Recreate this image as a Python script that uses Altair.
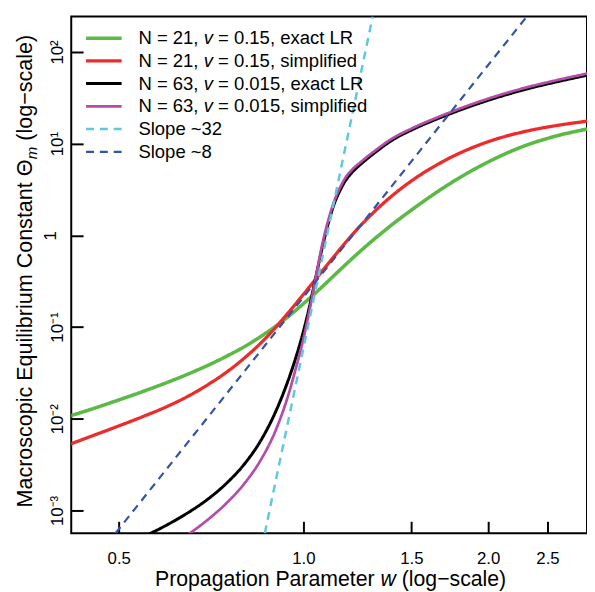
import altair as alt
import pandas as pd

series = [
    "N = 21, v = 0.15, exact LR",
    "N = 21, v = 0.15, simplified",
    "N = 63, v = 0.015, exact LR",
    "N = 63, v = 0.015, simplified",
    "Slope ~32",
    "Slope ~8",
]
colors = ["#5cb946", "#ee2b2b", "#000000", "#b44ca8", "#5ec8df", "#3553a5"]
widths = [3.6, 2.2, 3.6, 2.2, 2.6, 2.6]
dashes = [[1, 0], [1, 0], [1, 0], [1, 0], [8, 6], [8, 6]]

# legend text pieces (v is italic in the reference)
legend_prefix = ["N = 21,", "N = 21,", "N = 63,", "N = 63,", "Slope ~32", "Slope ~8"]
legend_italic = ["v", "v", "v", "v", "", ""]
legend_suffix = ["= 0.15, exact LR", "= 0.15, simplified", "= 0.015, exact LR",
                 "= 0.015, simplified", "", ""]

# axis titles, split so that w and the subscript m can be italic
x_title_parts = ["Propagation Parameter", "w", "(log−scale)"]
y_title_parts = ["Macroscopic Equilibrium Constant Θ", "m", "(log−scale)"]

green_w = [0.41, 0.45, 0.5, 0.55, 0.6, 0.65, 0.7, 0.75, 0.8, 0.85, 0.9, 0.95, 1.0,
           1.05, 1.1, 1.15, 1.2, 1.3, 1.4, 1.5, 1.7, 2.0, 2.3, 2.6, 2.9]
green_theta = [0.010399, 0.012641, 0.016025, 0.020055, 0.024928, 0.030934, 0.038487,
               0.048186, 0.060758, 0.078106, 0.10160, 0.13421, 0.17989, 0.24046,
               0.32166, 0.42658, 0.55683, 0.89178, 1.3360, 1.8873, 3.3761, 6.3081,
               9.5280, 12.255, 14.430]

red_w = green_w
red_theta = [0.005082, 0.006412, 0.008347, 0.010693, 0.013643, 0.017758, 0.023714,
             0.032359, 0.045541, 0.065886, 0.098266, 0.14985, 0.22716, 0.34060,
             0.50119, 0.72160, 1.0104, 1.7677, 2.7579, 3.9228, 6.5497, 10.495,
             13.600, 15.852, 17.587]

black_w = [0.55, 0.6, 0.65, 0.7, 0.75, 0.8, 0.85, 0.9, 0.95, 0.97, 1.0, 1.02, 1.05,
           1.07, 1.1, 1.12, 1.15, 1.17, 1.2, 1.25, 1.3, 1.4, 1.5, 1.7, 2.0, 2.3, 2.6, 2.9]
black_theta = [5.200e-4, 6.990e-4, 9.546e-4, 1.3423e-3, 1.9903e-3, 3.1659e-3, 5.6286e-3,
               0.011757, 0.029354, 0.044566, 0.089784, 0.15324, 0.37670, 0.67546,
               1.4261, 2.1193, 3.1917, 3.9264, 4.8450, 6.2634, 7.7393, 11.086, 14.069,
               20.098, 29.689, 39.090, 47.577, 55.739]

magenta_w = [0.65, 0.7, 0.75, 0.8, 0.85, 0.9, 0.95, 0.97, 1.0, 1.02, 1.05, 1.07, 1.1,
             1.12, 1.15, 1.17, 1.2, 1.25, 1.3, 1.4, 1.5, 1.7, 2.0, 2.3, 2.6, 2.9]
magenta_theta = [5.510e-4, 8.035e-4, 1.2106e-3, 1.9409e-3, 3.4601e-3, 7.3299e-3,
                 0.020490, 0.033820, 0.074690, 0.13801, 0.37550, 0.72595, 1.5322,
                 2.2570, 3.4267, 4.2296, 5.1821, 6.5886, 8.1095, 11.532, 14.584,
                 20.834, 30.935, 40.727, 49.569, 58.063]

slope32_w = [0.865, 1.297]
slope32_theta = [5.65e-4, 244.0]
slope8_w = [0.494, 2.313]
slope8_theta = [5.65e-4, 244.0]

x_ticks = [0.5, 1.0, 1.5, 2.0, 2.5]
y_ticks = [1e-3, 1e-2, 1e-1, 1, 10, 100]
y_tick_labels = ["10⁻³", "10⁻²", "10⁻¹", "1", "10¹", "10²"]

x_domain = [0.4183, 2.899]
y_domain = [5.65e-4, 244.0]

rows = []
for name, ws, ts in zip(
    series,
    [green_w, red_w, black_w, magenta_w, slope32_w, slope8_w],
    [green_theta, red_theta, black_theta, magenta_theta, slope32_theta, slope8_theta],
):
    for i, (w, t) in enumerate(zip(ws, ts)):
        rows.append({"series": name, "w": w, "theta": t, "i": i})
df = pd.DataFrame(rows)

legend_df = pd.DataFrame({
    "series": series,
    "row": list(range(len(series))),
    "prefix": legend_prefix,
    "ital": legend_italic,
    "suffix": legend_suffix,
})

label_array = "[" + ",".join("'" + s + "'" for s in y_tick_labels) + "]"
y_label_expr = label_array + "[round(log(datum.value)/LN10)+3]"

FONT = "Liberation Sans"
W, H = 522, 523

# ---- layout constants (pixels, relative to the plot area) ----
LEG_FS = 18.7
LEG_ROW = 23
LEG_TOP = 22
SYM_X0, SYM_X1 = 15, 51
TXT_X = 68
em = LEG_FS / 1000.0
w_prefix = 3252 * em    # "N = 21," in Arial/Liberation metrics
w_space = 278 * em
w_v = 500 * em

TFS = 21.5              # x title
tem = TFS / 1000.0
XT_Y = 576.5            # baseline of x title
XT_X0 = 262.5 - 16534 * tem / 2
XT_X1 = XT_X0 + 10338 * tem + 278 * tem
XT_X2 = XT_X1 + 722 * tem + 278 * tem

YFS = 21.8              # y title
yem = YFS / 1000.0
YT_X = -40              # baseline of y title
YT_Y0 = 497
YT_Y1 = YT_Y0 - 16171 * yem
SUB_FS = YFS * 0.7
YT_Y2 = YT_Y1 - 833 * SUB_FS / 1000.0 - 278 * yem

color_enc = alt.Color("series:N", scale=alt.Scale(domain=series, range=colors), legend=None)
dash_enc = alt.StrokeDash("series:N", scale=alt.Scale(domain=series, range=dashes), legend=None)
width_enc = alt.StrokeWidth("series:N", scale=alt.Scale(domain=series, range=widths), legend=None)

lines = (
    alt.Chart(df)
    .mark_line(clip=True, strokeCap="butt", interpolate="monotone")
    .encode(
        x=alt.X(
            "w:Q",
            scale=alt.Scale(type="log", domain=x_domain, nice=False),
            axis=alt.Axis(
                values=x_ticks,
                format=".1f",
                title=None,
                offset=-12,
                tickSize=12,
                labelPadding=18,
            ),
        ),
        y=alt.Y(
            "theta:Q",
            scale=alt.Scale(type="log", domain=y_domain, nice=False),
            axis=alt.Axis(
                values=y_ticks,
                labelExpr=y_label_expr,
                title=None,
                offset=-12,
                tickSize=12,
                labelAngle=-90,
                labelAlign="center",
                labelBaseline="alphabetic",
                labelPadding={"condition": {"test": "datum.value == 1", "value": 16},
                              "value": 9},
            ),
        ),
        color=color_enc,
        strokeDash=dash_enc,
        strokeWidth=width_enc,
        order="i:Q",
    )
)

leg_y = alt.Y(
    "row:Q",
    scale=alt.Scale(
        domain=[-LEG_TOP / LEG_ROW, (H - LEG_TOP) / LEG_ROW],
        reverse=True, zero=False, nice=False,
    ),
    axis=None,
)

leg_rules = (
    alt.Chart(legend_df)
    .mark_rule(strokeCap="butt")
    .encode(
        x=alt.value(SYM_X0),
        x2=alt.value(SYM_X1),
        y=leg_y,
        color=color_enc,
        strokeDash=dash_enc,
        strokeWidth=width_enc,
    )
)


def leg_text(field, x, italic=False):
    kw = dict(align="left", baseline="middle", font=FONT, fontSize=LEG_FS, color="black")
    if italic:
        kw["fontStyle"] = "italic"
    return (
        alt.Chart(legend_df)
        .mark_text(**kw)
        .encode(x=alt.value(x), y=leg_y, text=f"{field}:N")
    )


leg_txt1 = leg_text("prefix", TXT_X)
leg_txt2 = leg_text("ital", TXT_X + w_prefix + w_space, italic=True)
leg_txt3 = leg_text("suffix", TXT_X + w_prefix + 2 * w_space + w_v)


def title_piece(text, x, y, size, angle=0, italic=False):
    kw = dict(align="left", baseline="alphabetic", font=FONT, fontSize=size,
              color="black", angle=angle)
    if italic:
        kw["fontStyle"] = "italic"
    return (
        alt.Chart(pd.DataFrame({"label": [text]}))
        .mark_text(**kw)
        .encode(x=alt.value(x), y=alt.value(y), text="label:N")
    )


x_title = [
    title_piece(x_title_parts[0], XT_X0, XT_Y, TFS),
    title_piece(x_title_parts[1], XT_X1, XT_Y, TFS, italic=True),
    title_piece(x_title_parts[2], XT_X2, XT_Y, TFS),
]
y_title = [
    title_piece(y_title_parts[0], YT_X, YT_Y0, YFS, angle=270),
    title_piece(y_title_parts[1], YT_X + 5, YT_Y1, SUB_FS, angle=270, italic=True),
    title_piece(y_title_parts[2], YT_X, YT_Y2, YFS, angle=270),
]

chart = (
    alt.layer(lines, leg_rules, leg_txt1, leg_txt2, leg_txt3, *x_title, *y_title)
    .resolve_scale(y="independent")
    .properties(
        width=W,
        height=H,
        autosize=alt.AutoSizeParams(type="none"),
        padding={"left": 64, "top": 5, "right": 0, "bottom": 56},
    )
    .configure_view(stroke="black", strokeWidth=2)
    .configure_axis(
        domain=False,
        ticks=True,
        tickColor="black",
        tickWidth=2,
        grid=False,
        labelFont=FONT,
        labelFontSize=17,
        labelColor="black",
    )
)

chart.save("out.html", embed_options={"renderer": "svg", "actions": False})
